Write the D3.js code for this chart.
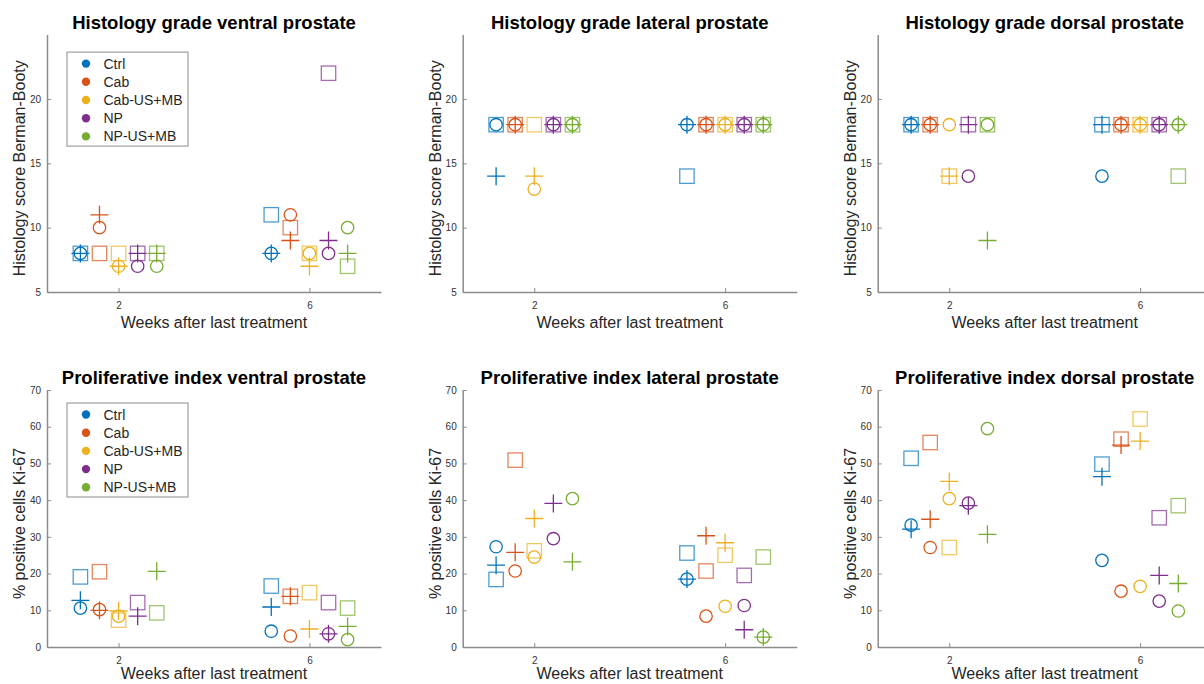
<!DOCTYPE html>
<html>
<head>
<meta charset="utf-8">
<script src="https://cdn.jsdelivr.net/npm/d3@7"></script>
<style>
  body { margin: 0; background: #fff; }
  svg { display: block; font-family: "Liberation Sans", Arial, sans-serif; }
</style>
</head>
<body>
<svg id="chart"></svg>
<script>
const width = 1204;
const height = 684;

const groups = ["Ctrl", "Cab", "Cab-US+MB", "NP", "NP-US+MB"];
const colors = ["#0072BD", "#D95319", "#EDB120", "#7E2F8E", "#77AC30"];
const weeks = [2, 6];
// each sample: [circle, plus, square]; null = no value
const histVentral = [
  [[8, 8, 8], [10, 11, 8], [7, 7, 8], [7, 8, 8], [7, 8, 8]],
  [[8, 8, 11], [11, 9, 10], [8, 7, 8], [8, 9, 22], [10, 8, 7]]
];
const histLateral = [
  [[18, 14, 18], [18, 18, 18], [13, 14, 18], [18, 18, 18], [18, 18, 18]],
  [[18, 18, 14], [18, 18, 18], [18, 18, 18], [18, 18, 18], [18, 18, 18]]
];
const histDorsal = [
  [[18, 18, 18], [18, 18, 18], [18, 14, 14], [14, 18, 18], [18, 9, 18]],
  [[14, 18, 18], [18, 18, 18], [18, 18, 18], [18, 18, 18], [18, 18, 14]]
];
const kiVentral = [
  [[10.6, 12.7, 19.1], [10.2, 10.0, 20.5], [8.4, 9.8, 7.3], [null, 8.4, 12.1], [null, 20.6, 9.3]],
  [[4.3, 10.9, 16.6], [3.0, 13.8, 13.8], [null, 4.9, 14.8], [3.6, 3.6, 12.1], [2.0, 5.6, 10.6]]
];
const kiLateral = [
  [[27.3, 22.3, 18.4], [20.7, 25.8, 50.9], [24.5, 35.0, 26.2], [29.5, 39.1, null], [40.4, 23.2, null]],
  [[18.5, 18.5, 25.6], [8.4, 30.3, 20.7], [11.1, 28.4, 25.0], [11.3, 4.7, 19.5], [2.7, 2.7, 24.5]]
];
const kiDorsal = [
  [[33.2, 32.1, 51.4], [27.1, 34.8, 55.7], [40.4, 45.1, 27.1], [39.2, 38.5, null], [59.5, 30.7, null]],
  [[23.6, 46.4, 49.8], [15.2, 55.0, 56.6], [16.5, 56.1, 62.1], [12.5, 19.5, 35.2], [9.8, 17.3, 38.5]]
];
const histTicks = [5, 10, 15, 20];
const kiTicks = [0, 10, 20, 30, 40, 50, 60, 70];

const panels = [
  { title: "Histology grade ventral prostate", data: histVentral, col: 0, row: 0, legend: true },
  { title: "Histology grade lateral prostate", data: histLateral, col: 1, row: 0 },
  { title: "Histology grade dorsal prostate", data: histDorsal, col: 2, row: 0 },
  { title: "Proliferative index ventral prostate", data: kiVentral, col: 0, row: 1, legend: true },
  { title: "Proliferative index lateral prostate", data: kiLateral, col: 1, row: 1 },
  { title: "Proliferative index dorsal prostate", data: kiDorsal, col: 2, row: 1 }
];

const svg = d3.select("#chart").attr("width", width).attr("height", height);

const colLeft = [47, 462.7, 877.7];
const plotW = 334;
const rows = [
  { top: 34.6, bottom: 292, domain: [5, 25], ticks: histTicks, ylabel: "Histology score Berman-Booty", titleY: 29, xlabY: 328 },
  { top: 390, bottom: 647, domain: [0, 70], ticks: kiTicks, ylabel: "% positive cells Ki-67", titleY: 384, xlabY: 679 }
];
const axisColor = "#8c8c8c";

panels.forEach((p) => {
  const r = rows[p.row];
  const left = colLeft[p.col];
  const x = d3.scaleLinear().domain([0.5, 7.5]).range([left, left + plotW]);
  const y = d3.scaleLinear().domain(r.domain).range([r.bottom, r.top]);
  const g = svg.append("g");

  // axes
  const xAxis = g.append("g")
    .attr("transform", `translate(0,${r.bottom})`)
    .call(d3.axisBottom(x).tickValues(weeks).tickFormat(d3.format("d"))
      .tickSize(-4).tickSizeOuter(0).tickPadding(10));
  const yAxis = g.append("g")
    .attr("transform", `translate(${left},0)`)
    .call(d3.axisLeft(y).tickValues(r.ticks).tickFormat(d3.format("d"))
      .tickSize(-4).tickSizeOuter(0).tickPadding(6));
  [xAxis, yAxis].forEach((a) => {
    a.select(".domain").attr("stroke", axisColor).attr("stroke-width", 1.5);
    a.selectAll(".tick line").attr("stroke", axisColor);
    a.selectAll(".tick text").attr("fill", "#333").style("font-size", "10px")
      .style("font-family", "Liberation Sans, Arial, sans-serif");
  });

  // labels
  g.append("text")
    .attr("x", left + plotW / 2).attr("y", r.titleY)
    .attr("text-anchor", "middle")
    .style("font-size", "18.5px").style("font-weight", "bold")
    .text(p.title);
  g.append("text")
    .attr("x", left + plotW / 2).attr("y", r.xlabY)
    .attr("text-anchor", "middle")
    .style("font-size", "16px").attr("fill", "#262626")
    .text("Weeks after last treatment");
  g.append("text")
    .attr("transform", `translate(${left - 22},${(r.top + r.bottom) / 2 + 5}) rotate(-90)`)
    .attr("text-anchor", "middle")
    .style("font-size", "16px").attr("fill", "#262626")
    .text(r.ylabel);

  // markers
  const pts = [];
  p.data.forEach((wk, wi) => {
    wk.forEach((vals, gi) => {
      vals.forEach((v, mi) => {
        if (v !== null) pts.push({ week: weeks[wi], group: gi, marker: mi, value: v });
      });
    });
  });
  const mg = g.append("g").attr("fill", "none").attr("stroke-width", 1.3);
  pts.forEach((d) => {
    const cx = x(d.week + (d.group - 2) * 0.4);
    const cy = y(d.value);
    const c = colors[d.group];
    if (d.marker === 0) {
      mg.append("circle").attr("cx", cx).attr("cy", cy).attr("r", 6.2).attr("stroke", c);
    } else if (d.marker === 1) {
      mg.append("path")
        .attr("d", `M${cx - 9},${cy}H${cx + 9}M${cx},${cy - 9}V${cy + 9}`)
        .attr("stroke", c);
    } else {
      mg.append("rect").attr("x", cx - 7.2).attr("y", cy - 7.2)
        .attr("width", 14.4).attr("height", 14.4)
        .attr("stroke", c).attr("stroke-opacity", 0.7);
    }
  });

  if (p.legend) {
    const lx = left + 20, ly = r.top + (p.row === 0 ? 17.5 : 13);
    const lg = g.append("g").attr("transform", `translate(${lx},${ly})`);
    lg.append("rect").attr("width", 121).attr("height", 94)
      .attr("fill", "#fff").attr("stroke", "#8c8c8c").attr("stroke-width", 1);
    groups.forEach((name, i) => {
      lg.append("circle").attr("cx", 19).attr("cy", 11.5 + i * 18.2).attr("r", 4.2).attr("fill", colors[i]);
      lg.append("text").attr("x", 36.5).attr("y", 16.5 + i * 18.2)
        .style("font-size", "14px").attr("fill", "#262626").text(name);
    });
  }
});
</script>
</body>
</html>
